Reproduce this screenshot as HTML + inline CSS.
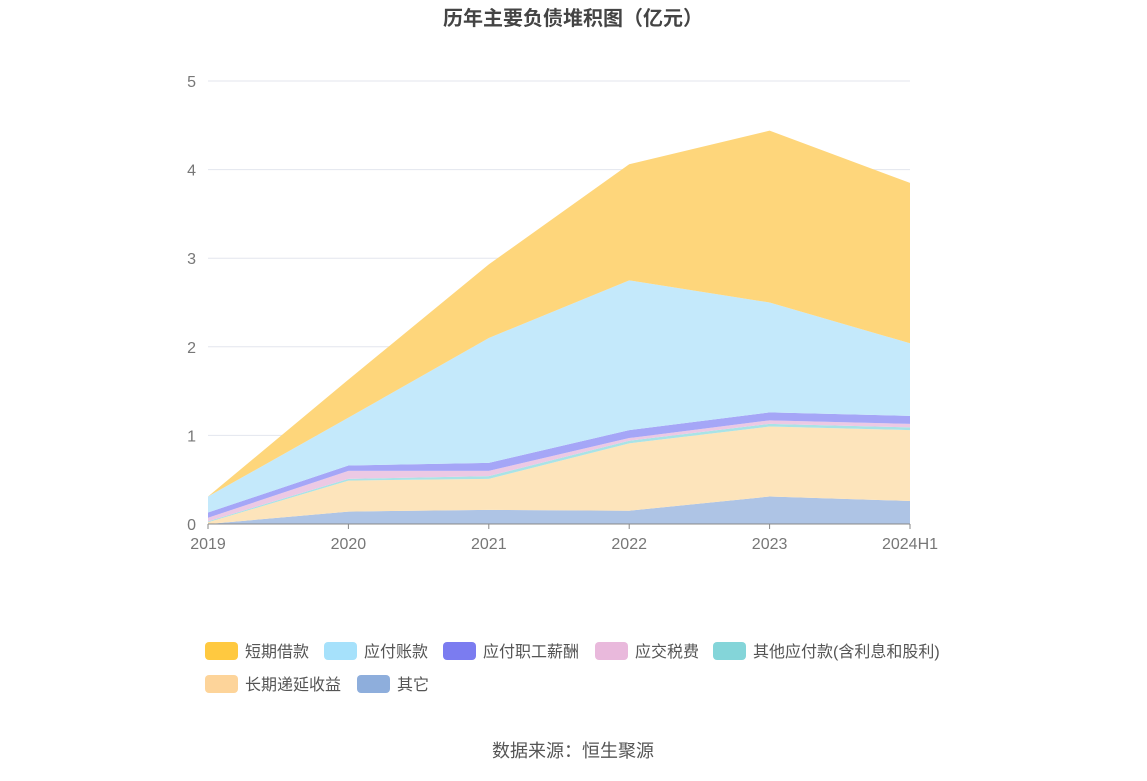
<!DOCTYPE html>
<html><head><meta charset="utf-8"><style>
body{margin:0;background:#fff;font-family:"Liberation Sans","Noto Sans CJK SC",sans-serif;}
</style></head><body>
<svg width="1147" height="776" xmlns="http://www.w3.org/2000/svg" id="chart" font-family="Liberation Sans, Noto Sans CJK SC, sans-serif">
<text x="573" y="25" text-anchor="middle" font-size="20" font-weight="bold" fill="#444">历年主要负债堆积图（亿元）</text>
<g id="grid"></g>
<g id="areas"></g>
<g id="axes"></g>
<g id="legend"></g>
<text x="573" y="757" text-anchor="middle" font-size="18" fill="#555">数据来源：恒生聚源</text>
</svg>
<script>
const categories=["2019","2020","2021","2022","2023","2024H1"];
const yTicks=[0,1,2,3,4,5];
const seriesNames=["短期借款","应付账款","应付职工薪酬","应交税费","其他应付款(含利息和股利)","长期递延收益","其它"];
const other=[0.0,0.14,0.16,0.15,0.31,0.26];
const deferred=[0.02,0.35,0.35,0.76,0.79,0.80];
const otherPayables=[0.01,0.02,0.03,0.03,0.03,0.03];
const tax=[0.04,0.09,0.06,0.03,0.04,0.04];
const employee=[0.06,0.06,0.09,0.09,0.09,0.09];
const payables=[0.18,0.54,1.41,1.69,1.24,0.82];
const shortLoans=[0,0.43,0.83,1.31,1.94,1.81];
const legendColors=["#ffc940","#a6e1fb","#7b7cf0","#e9b9dc","#84d5d9","#fdd49a","#8eaedc"];
const fillColors=["#fed67b","#c4e9fb","#a5a6f7","#ecc9e4","#a9e3e6","#fde4bb","#aec4e5"];
const NS="http://www.w3.org/2000/svg";
const x0=208,x1=910,yBase=524,yTop=81,yMax=5;
const X=i=>x0+i*(x1-x0)/(categories.length-1);
const Y=v=>yBase-v*(yBase-yTop)/yMax;
function mk(t,a,p){const e=document.createElementNS(NS,t);for(const k in a)e.setAttribute(k,a[k]);p.appendChild(e);return e;}
const grid=document.getElementById('grid');
yTicks.forEach(t=>{
 if(t>0){const l=mk('line',{x1:x0,x2:x1,y1:Y(t),y2:Y(t),stroke:'#e3e6ee','stroke-width':1},grid);
 
 }
 const tx=mk('text',{x:x0-12,y:Y(t)+6,'text-anchor':'end','font-size':16,fill:'#777'},grid);tx.textContent=t;
 
 
});
// stacking bottom -> top
const stackOrder=[other,deferred,otherPayables,tax,employee,payables,shortLoans];
const colorIdx=[6,5,4,3,2,1,0];
const areaNames=['area-other','area-deferred-income','area-other-payables','area-tax','area-employee-pay','area-accounts-payable','area-short-loans'];
const areas=document.getElementById('areas');
let base=categories.map(()=>0);
const layers=[];
stackOrder.forEach((s,k)=>{const top=base.map((b,i)=>b+s[i]);layers.push([base,top]);base=top;});
layers.forEach((lt,k)=>{
 const [b,t]=lt;
 let d='M'+t.map((v,i)=>X(i)+','+Y(v)).join(' L');
 for(let i=categories.length-1;i>=0;i--)d+=' L'+X(i)+','+Y(b[i]);
 const p=mk('path',{d:d+'Z',fill:fillColors[colorIdx[k]]},areas);
 
 
});
const axes=document.getElementById('axes');
const ax=mk('line',{x1:x0,x2:x1,y1:yBase,y2:yBase,stroke:'#888'},axes);


categories.forEach((c,i)=>{
 const tk=mk('line',{x1:X(i),x2:X(i),y1:yBase,y2:yBase+5,stroke:'#888'},axes);
 
 
 const tx=mk('text',{x:X(i),y:yBase+25,'text-anchor':'middle','font-size':16,fill:'#777'},axes);tx.textContent=c;
 
 
});
const legend=document.getElementById('legend');
const pos=[[205,651],[324,651],[443,651],[595,651],[713,651],[205,684],[357,684]];
seriesNames.forEach((n,i)=>{
 const g=mk('g',{},legend);
 
 
 mk('rect',{x:pos[i][0],y:pos[i][1]-9,width:33,height:18,rx:4,fill:legendColors[i]},g);
 const tx=mk('text',{x:pos[i][0]+40,y:pos[i][1]+6,'font-size':16,fill:'#555'},g);tx.textContent=n;
});
</script>
</body></html>
